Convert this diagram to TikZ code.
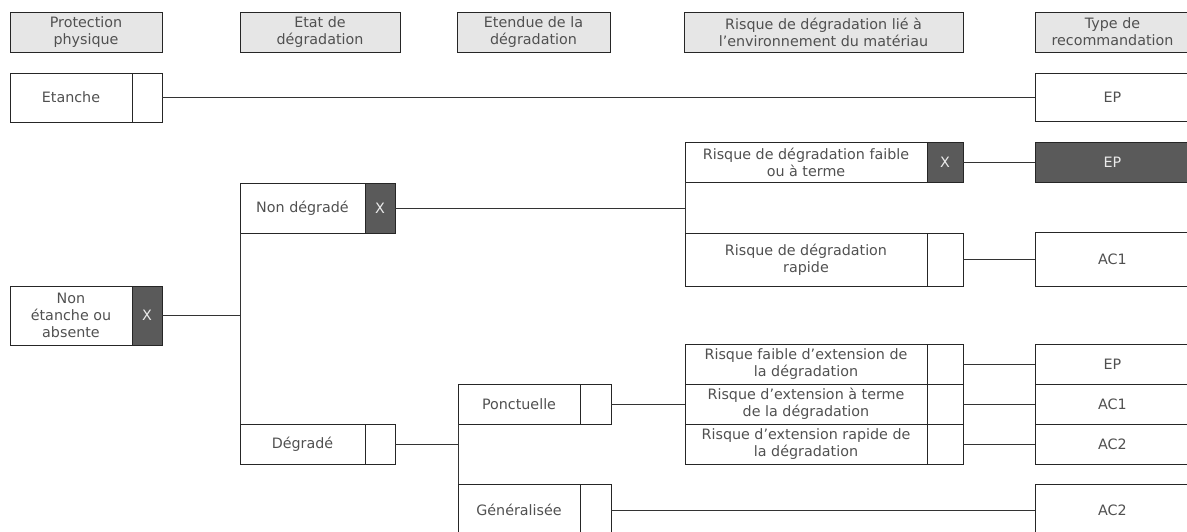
\documentclass[tikz,border=0pt]{standalone}
\usepackage{fontspec}
\setmainfont{DejaVu Sans}
\usepackage{tikz}
\usetikzlibrary{calc}
\definecolor{cbox}{HTML}{E6E6E6}
\definecolor{cdark}{HTML}{5A5A5A}
\definecolor{ctext}{HTML}{505050}

\begin{document}
\begin{tikzpicture}[x=1pt, y=-1pt, line width=0.9pt,
    font=\fontsize{14.3}{17}\selectfont,
    box/.style={draw=black!85, text=ctext, inner sep=0pt, outer sep=0pt, align=center},
    head/.style={box, fill=cbox, minimum height=40},
    cell/.style={box, minimum width=30, anchor=west},
    xcell/.style={cell, fill=cdark, text=white!92!black},
    link/.style={draw=black!80}]
  \path[use as bounding box] (0,0) rectangle (1187,531);
  \def\wc{242}     % width of a risk box (without its tick cell)
  \def\xr{806}     % centre of the risk column
  \def\xt{1112.5}  % centre of the recommendation column
  % column headers
  \node[head, minimum width=152] (h1) at (86,32)    {Protection\\physique};
  \node[head, minimum width=160] (h2) at (320,32)   {Etat de\\dégradation};
  \node[head, minimum width=153] (h3) at (533.5,32) {Etendue de la\\dégradation};
  \node[head, minimum width=279] (h4) at (823.5,32) {Risque de dégradation lié à\\l'environnement du matériau};
  \node[head, minimum width=155] (h5) at (\xt,32)   {Type de\\recommandation};
  % ---------------- protection physique
  \node[box, minimum width=122, minimum height=49] (et) at (71,97.5) {Etanche};
  \node[cell, minimum height=49] (etx) at (et.east) {};
  \node[box, minimum width=122, minimum height=59] (ne) at (71,315.5) {Non\\étanche ou\\absente};
  \node[xcell, minimum height=59] (nex) at (ne.east) {X};
  % ---------------- état de dégradation
  \node[box, minimum width=125, minimum height=50] (nd) at (302.5,208) {Non dégradé};
  \node[xcell, minimum height=50] (ndx) at (nd.east) {X};
  \node[box, minimum width=125, minimum height=40] (dg) at (302.5,444) {Dégradé};
  \node[cell, minimum height=40] (dgx) at (dg.east) {};
  % ---------------- étendue
  \node[box, minimum width=122, minimum height=40] (po) at (519,404) {Ponctuelle};
  \node[cell, minimum width=31, minimum height=40] (pox) at (po.east) {};
  \node[box, minimum width=122, minimum height=52] (ge) at (519,510) {Généralisée};
  \node[cell, minimum width=31, minimum height=52] (gex) at (ge.east) {};
  % ---------------- risque lié à l'environnement
  \node[box, minimum width=\wc, minimum height=40] (rf) at (\xr,162) {Risque de dégradation faible\\ou à terme};
  \node[xcell, minimum width=36, minimum height=40] (rfx) at (rf.east) {X};
  \node[box, minimum width=\wc, minimum height=53] (rr) at (\xr,259.5) {Risque de dégradation\\rapide};
  \node[cell, minimum width=36, minimum height=53] (rrx) at (rr.east) {};
  \node[box, minimum width=\wc, minimum height=40] (r1) at (\xr,364) {Risque faible d'extension de\\la dégradation};
  \node[box, minimum width=\wc, minimum height=40] (r2) at (\xr,404) {Risque d'extension à terme\\de la dégradation};
  \node[box, minimum width=\wc, minimum height=40] (r3) at (\xr,444) {Risque d'extension rapide de\\la dégradation};
  \foreach \r in {r1,r2,r3}
    \node[cell, minimum width=36, minimum height=40] (\r x) at (\r.east) {};
  % ---------------- type de recommandation
  \node[box, minimum width=155, minimum height=48] (ep1) at (\xt,97.5) {EP};
  \node[box, fill=cdark, text=white!92!black, minimum width=155, minimum height=40] (ep2) at (\xt,162) {EP};
  \node[box, minimum width=155, minimum height=54] (ac1) at (\xt,259.5) {AC1};
  \node[box, minimum width=155, minimum height=40] (ep3) at (\xt,364) {EP};
  \node[box, minimum width=155, minimum height=40] (ac1b) at (\xt,404) {AC1};
  \node[box, minimum width=155, minimum height=40] (ac2) at (\xt,444) {AC2};
  \node[box, minimum width=155, minimum height=52] (ac2b) at (\xt,510) {AC2};
  % connectors
  \draw[link] (etx.east) -- (ep1.west);
  \draw[link] (nex.east) -- (nex.east -| nd.south west);
  \draw[link] (nd.south west) -- (dg.north west);
  \draw[link] (ndx.east) -- (ndx.east -| rf.south west);
  \draw[link] (rf.south west) -- (rr.north west);
  \draw[link] (rfx.east) -- (ep2.west);
  \draw[link] (rrx.east) -- (ac1.west);
  \draw[link] (dgx.east) -- (dgx.east -| po.south west);
  \draw[link] (po.south west) -- (ge.north west);
  \draw[link] (pox.east) -- (r2.west);
  \foreach \r/\t in {r1/ep3, r2/ac1b, r3/ac2}
    \draw[link] (\r x.east) -- (\t.west);
  \draw[link] (gex.east) -- (ac2b.west);
\end{tikzpicture}
\end{document}
